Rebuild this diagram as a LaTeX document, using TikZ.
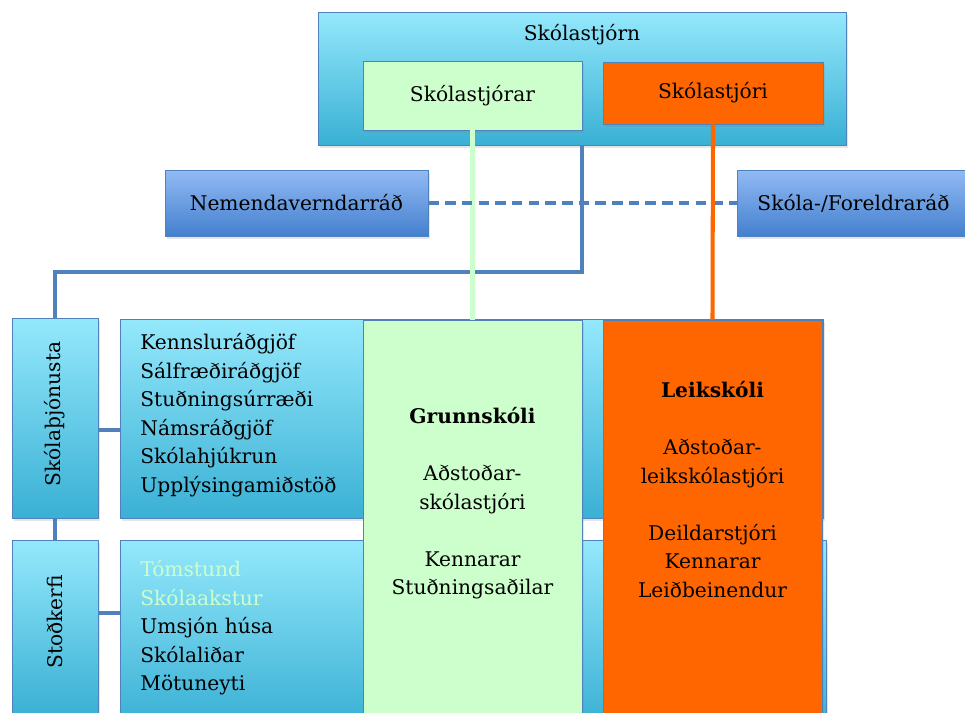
\documentclass[tikz,border=0pt]{standalone}
\usepackage{fontspec}
\setmainfont{DejaVu Serif}
\usetikzlibrary{positioning, shadows}
\definecolor{sk-cyantop}{RGB}{148,232,252}
\definecolor{sk-cyanbot}{RGB}{58,176,212}
\definecolor{sk-bluetop}{RGB}{146,186,244}
\definecolor{sk-bluebot}{RGB}{68,128,206}
\definecolor{sk-line}{RGB}{79,129,189}
\definecolor{sk-green}{RGB}{204,255,204}
\definecolor{sk-orange}{RGB}{255,102,0}

\begin{document}
\begin{tikzpicture}
    [font=\fontsize{11.5}{16.2}\selectfont,
    box/.style = {rectangle, draw=sk-line, line width=0.5pt, inner sep=0pt,
            drop shadow={shadow xshift=0.04cm, shadow yshift=-0.05cm, opacity=0.2}},
    cyanbox/.style = {box, top color=sk-cyantop, bottom color=sk-cyanbot},
    bluebox/.style = {box, top color=sk-bluetop, bottom color=sk-bluebot},
    greenbox/.style = {box, fill=sk-green},
    orangebox/.style = {box, fill=sk-orange},
    txt/.style = {inner sep=0pt, align=center},
    conn/.style = {line width=2.3pt, draw=sk-line},
    ]
    \useasboundingbox (0,0) rectangle (19.3,-14.26);
    \clip (0,0) rectangle (19.3,-14.26);

    \node[cyanbox, minimum width=10.56cm, minimum height=2.66cm] (skolastjorn) at (11.64,-1.57) {};
    \node[txt, below=0.25cm of skolastjorn.north] (skolastjorn-text) {Skólastjórn};
    \node[greenbox, minimum width=4.38cm, minimum height=1.38cm] (skolastjorar) at (9.45,-1.91) {Skólastjórar};
    \node[orangebox, minimum width=4.4cm, minimum height=1.24cm] (skolastjori) at (14.26,-1.86) {Skólastjóri};

    \node[bluebox, minimum width=5.26cm, minimum height=1.32cm] (nemendaverndarrad) at (5.93,-4.06) {Nemendaverndarráð};
    \node[bluebox, minimum width=4.66cm, minimum height=1.32cm] (foreldrarad) at (17.07,-4.06) {Skóla-/Foreldraráð};

    \node[cyanbox, minimum width=1.72cm, minimum height=4cm] (skolathjonusta) at (1.1,-8.36) {};
    \node[txt, rotate=90] (skolathjonusta-text) at (1.1,-8.28) {Skólaþjónusta};
    \node[cyanbox, minimum width=1.72cm, minimum height=3.5cm] (stodkerfi) at (1.1,-12.55) {};
    \node[txt, rotate=90] (stodkerfi-text) at (1.1,-12.44) {Stoðkerfi};

    \node[cyanbox, minimum width=14.06cm, minimum height=3.98cm] (radgjof) at (9.43,-8.38) {};
    \node[txt, anchor=west, align=left] (radgjof-text) at (2.8,-8.3)
        {Kennsluráðgjöf\\Sálfræðiráðgjöf\\Stuðningsúrræði\\Námsráðgjöf\\Skólahjúkrun\\Upplýsingamiðstöð};
    \node[cyanbox, minimum width=14.12cm, minimum height=3.7cm] (stodthjonusta) at (9.46,-12.65) {};
    \node[txt, anchor=west, align=left] (stodthjonusta-text) at (2.8,-12.56)
        {\textcolor{sk-green}{Tómstund}\\\textcolor{sk-green}{Skólaakstur}\\Umsjón húsa\\Skólaliðar\\Mötuneyti};

    \node[greenbox, minimum width=4.38cm, minimum height=8.2cm] (grunnskoli) at (9.45,-10.5) {};
    \node[txt] (grunnskoli-text) at (9.45,-10.07)
        {\textbf{Grunnskóli}\\[16.2pt]Aðstoðar-\\skólastjóri\\[16.2pt]Kennarar\\Stuðningsaðilar};
    \node[orangebox, minimum width=4.38cm, minimum height=8.2cm] (leikskoli) at (14.25,-10.5) {};
    \node[txt] (leikskoli-text) at (14.25,-9.79)
        {\textbf{Leikskóli}\\[16.2pt]Aðstoðar-\\leikskólastjóri\\[16.2pt]Deildarstjóri\\Kennarar\\Leiðbeinendur};

    \draw[conn] (skolastjorn.south) -- ++(0,-2.54) -| (skolathjonusta.north);
    \draw[conn] (skolathjonusta.south) -- (stodkerfi.north);
    \draw[conn] ([yshift=-0.24cm]skolathjonusta.east) -- ([yshift=-0.24cm]skolathjonusta.east -| radgjof.west);
    \draw[conn] ([yshift=0.29cm]stodkerfi.east) -- ([yshift=0.29cm]stodkerfi.east -| stodthjonusta.west);
    \draw[line width=3pt, sk-green] (skolastjorar.south) -- (grunnskoli.north);
    \draw[conn, line width=2.6pt, dash pattern=on 6pt off 3.5pt] (nemendaverndarrad.east) -- (foreldrarad.west);
    \draw[line width=2.3pt, sk-orange] (skolastjori.south) -- (leikskoli.north);
\end{tikzpicture}
\end{document}
